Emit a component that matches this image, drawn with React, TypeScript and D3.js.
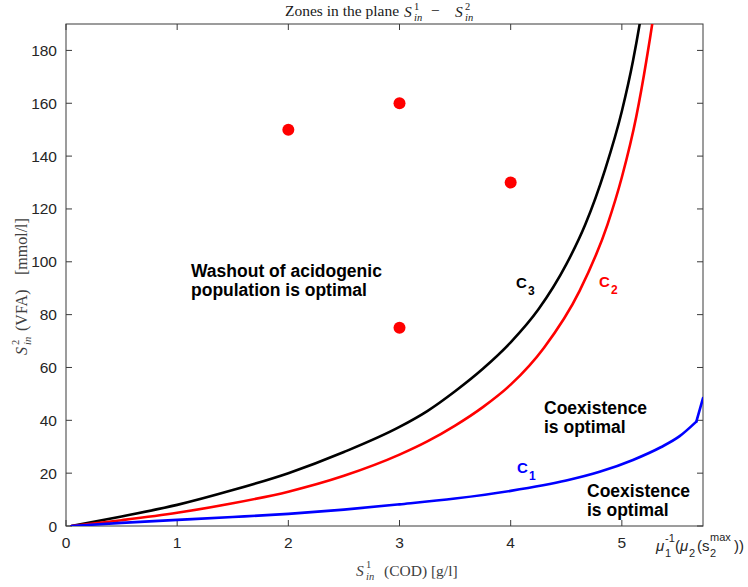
import React from "react";
import * as d3 from "d3";

const W = 748;
const H = 587;

const xTicks = [0, 1, 2, 3, 4, 5];
const yTicks = [0, 20, 40, 60, 80, 100, 120, 140, 160, 180];

// C3 (black)
const c3X = [0.05, 0.5, 1, 1.5, 2, 2.5, 3, 3.25, 3.5, 3.75, 4, 4.25, 4.5, 4.67, 4.85, 5.0, 5.1, 5.18, 5.25];
const c3Y = [0, 3.6, 8, 13.6, 20, 28, 37.5, 43.5, 51, 59.5, 69.5, 82, 99, 114, 135, 157, 176, 195, 215];
// C2 (red)
const c2X = [0.05, 0.5, 1, 1.5, 2, 2.5, 3, 3.25, 3.5, 3.75, 4, 4.3, 4.62, 4.87, 5.0, 5.13, 5.22, 5.3, 5.36];
const c2Y = [0, 2.2, 5, 8.6, 13, 19, 27, 32, 38, 45, 53.5, 67.5, 89, 114, 132, 155, 176, 198, 220];
// C1 (blue)
const c1X = [0.05, 0.5, 1, 1.5, 2, 2.5, 3, 3.5, 4, 4.5, 4.8, 5.1, 5.35, 5.52, 5.67, 5.73];
const c1Y = [0, 1.2, 2.3, 3.4, 4.6, 6.2, 8.2, 10.4, 13.3, 17.2, 20.5, 25, 29.8, 34, 39.5, 48.4];

// red points
const ptX = [2, 3, 4, 3];
const ptY = [150, 160, 130, 75];

const x = d3.scaleLinear().domain([0, 5.73]).range([66, 703]);
const y = d3.scaleLinear().domain([0, 190]).range([526, 24]);

const toPts = (xs: number[], ys: number[]) => xs.map((v, i) => [v, ys[i]] as [number, number]);

const smooth = d3
  .line<[number, number]>()
  .x((d) => x(d[0]))
  .y((d) => y(d[1]))
  .curve(d3.curveMonotoneX);
const straight = d3
  .line<[number, number]>()
  .x((d) => x(d[0]))
  .y((d) => y(d[1]))
  .curve(d3.curveLinear);

const axisColor = "#3a3a3a";
const sans = "'Liberation Sans', Arial, Helvetica, sans-serif";
const serif = "'Liberation Serif', 'DejaVu Serif', serif";

export default function App() {
  const [x0, x1] = x.range();
  const [y0, y1] = y.range();
  const tl = 6;
  const blue = toPts(c1X, c1Y);
  const blueMain = blue.slice(0, blue.length - 1);
  const blueEnd = blue.slice(blue.length - 2);
  return (
    <svg
      width={W}
      height={H}
      style={{ position: "absolute", left: 0, top: 0, background: "#fff" }}
    >
      <defs>
        <clipPath id="plot">
          <rect x={x0} y={y1} width={x1 - x0} height={y0 - y1} />
        </clipPath>
      </defs>
      <rect width={W} height={H} fill="#fff" />

      {/* box */}
      <rect x={x0} y={y1} width={x1 - x0} height={y0 - y1} fill="none" stroke={axisColor} strokeWidth={1} />
      {xTicks.map((t) => (
        <g key={"xt" + t}>
          <line x1={x(t)} x2={x(t)} y1={y0} y2={y0 - tl} stroke={axisColor} />
          <line x1={x(t)} x2={x(t)} y1={y1} y2={y1 + tl} stroke={axisColor} />
          <text x={x(t)} y={y0 + 22} textAnchor="middle" fontFamily={sans} fontSize={15.5} fill="#262626">
            {t}
          </text>
        </g>
      ))}
      {yTicks.map((t) => (
        <g key={"yt" + t}>
          <line x1={x0} x2={x0 + tl} y1={y(t)} y2={y(t)} stroke={axisColor} />
          <line x1={x1} x2={x1 - tl} y1={y(t)} y2={y(t)} stroke={axisColor} />
          <text x={x0 - 9} y={y(t) + 5.5} textAnchor="end" fontFamily={sans} fontSize={15.5} fill="#262626">
            {t}
          </text>
        </g>
      ))}

      {/* curves */}
      <g clipPath="url(#plot)" fill="none" strokeWidth={2.6} strokeLinejoin="round" strokeLinecap="round">
        <path d={smooth(toPts(c3X, c3Y)) || ""} stroke="#000" />
        <path d={smooth(toPts(c2X, c2Y)) || ""} stroke="#ff0000" />
        <path d={smooth(blueMain) || ""} stroke="#0000ff" />
        <path d={straight(blueEnd) || ""} stroke="#0000ff" />
      </g>

      {ptX.map((v, i) => (
        <circle key={"p" + i} cx={x(v)} cy={y(ptY[i])} r={6} fill="#ff0000" />
      ))}

      {/* annotations */}
      <g fontFamily={sans} fontWeight="bold" fontSize={17.5} fill="#000">
        <text x={191} y={277}>Washout of acidogenic</text>
        <text x={191} y={296}>population is optimal</text>
        <text x={544} y={414}>Coexistence</text>
        <text x={544} y={433}>is optimal</text>
        <text x={587} y={497}>Coexistence</text>
        <text x={587} y={516}>is optimal</text>
      </g>
      <g fontFamily={sans} fontWeight="bold" fontSize={15}>
        <text x={516} y={288} fill="#000">C</text>
        <text x={528} y={295} fill="#000" fontSize={12}>3</text>
        <text x={599} y={287} fill="#ff0000">C</text>
        <text x={611} y={294} fill="#ff0000" fontSize={12}>2</text>
        <text x={517} y={473} fill="#0000ff">C</text>
        <text x={529} y={480} fill="#0000ff" fontSize={12}>1</text>
      </g>

      {/* mu label at right end of x axis */}
      <g fontFamily={sans} fill="#262626" fontSize={15}>
        <text x={656} y={551} fontStyle="italic">μ</text>
        <text x={665} y={542} fontSize={11}>-1</text>
        <text x={665} y={557} fontSize={11}>1</text>
        <text x={675} y={551}>(</text>
        <text x={680} y={551} fontStyle="italic">μ</text>
        <text x={689} y={557} fontSize={11}>2</text>
        <text x={697} y={551}>(s</text>
        <text x={710} y={557} fontSize={11}>2</text>
        <text x={710} y={541} fontSize={11}>max</text>
        <text x={734} y={551}>))</text>
      </g>

      {/* title */}
      <g fontFamily={serif} fill="#1a1a1a" fontSize={15.5}>
        <text x={285} y={16}>Zones in the plane</text>
        <text x={404} y={17} fontStyle="italic">S</text>
        <text x={414} y={10} fontSize={10.5}>1</text>
        <text x={414} y={21} fontSize={10.5} fontStyle="italic">in</text>
        <text x={431} y={16}>−</text>
        <text x={455} y={17} fontStyle="italic">S</text>
        <text x={465} y={10} fontSize={10.5}>2</text>
        <text x={465} y={21} fontSize={10.5} fontStyle="italic">in</text>
      </g>

      {/* x label */}
      <g fontFamily={serif} fill="#404040" fontSize={15.5}>
        <text x={356} y={576} fontStyle="italic">S</text>
        <text x={366} y={568} fontSize={10.5}>1</text>
        <text x={366} y={580} fontSize={10.5} fontStyle="italic">in</text>
        <text x={384} y={576}>(COD) [g/l]</text>
      </g>

      {/* y label */}
      <g transform="translate(27,355) rotate(-90)" fontFamily={serif} fill="#404040" fontSize={16}>
        <text x={0} y={0} fontStyle="italic">S</text>
        <text x={10} y={-8} fontSize={10.5}>2</text>
        <text x={10} y={4} fontSize={10.5} fontStyle="italic">in</text>
        <text x={24} y={0}>(VFA)</text>
        <text x={80} y={0}>[mmol/l]</text>
      </g>
    </svg>
  );
}
